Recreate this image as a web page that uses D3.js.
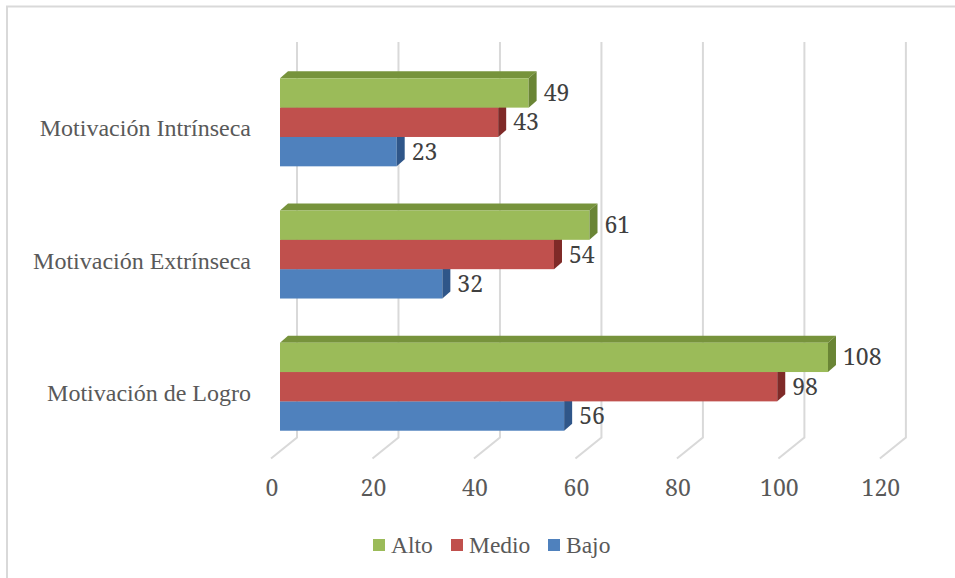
<!DOCTYPE html>
<html>
<head>
<meta charset="utf-8">
<script src="https://cdn.jsdelivr.net/npm/d3@7"></script>
</head>
<body style="margin:0">
<svg id="chart" width="955" height="578" style="display:block"></svg>
<script>
// datos
const categorias = ['Motivación Intrínseca', 'Motivación Extrínseca', 'Motivación de Logro'];
const series = ['Alto', 'Medio', 'Bajo'];
const alto = [49, 61, 108];
const medio = [43, 54, 98];
const bajo = [23, 32, 56];
const ticks = [0, 20, 40, 60, 80, 100, 120];

const valores = { Alto: alto, Medio: medio, Bajo: bajo };
const colores = {
  Alto:  { front: '#9BBB59', top: '#77933C', side: '#6A8535' },
  Medio: { front: '#C0504D', top: '#943C3A', side: '#7F2A28' },
  Bajo:  { front: '#4F81BD', top: '#3A6396', side: '#2F5689' }
};

const fuenteTexto = '"Liberation Serif"';
const fuenteNum = '"Noto Serif"';

const svg = d3.select('#chart');

// marco
svg.append('rect')
  .attr('x', 7).attr('y', 6.5)
  .attr('width', 1000).attr('height', 1000)
  .attr('fill', 'none').attr('stroke', '#D9D9D9').attr('stroke-width', 2);

// escalas
const x = d3.scaleLinear().domain([0, 120]).range([280, 280 + 120 * 5.074]);
const y = d3.scaleBand().domain(categorias).range([56.2, 452.8])
  .paddingInner(0.334).paddingOuter(0.167);
const ySub = d3.scaleBand().domain(series).range([0, y.bandwidth()]);

// desplazamientos 3D
const dx = 8, dy = -7;          // profundidad de la barra
const backDx = 17;              // plano trasero respecto al frente de la barra
const floorDx = -26, floorDy = 21;
const gridTop = 42, gridBottom = 437.5;

// cuadrícula (plano trasero + suelo)
const grid = svg.append('g');
ticks.forEach(t => {
  const xb = x(t) + backDx;
  grid.append('path')
    .attr('d', `M${xb},${gridTop}L${xb},${gridBottom}L${xb + floorDx},${gridBottom + floorDy}`)
    .attr('fill', 'none').attr('stroke', '#D9D9D9').attr('stroke-width', 2);
});

// etiquetas del eje X
svg.selectAll('text.tick').data(ticks).join('text')
  .attr('class', 'tick')
  .attr('x', d => x(d) - 8)
  .attr('y', 496)
  .attr('text-anchor', 'middle')
  .style('font-family', fuenteNum)
  .style('font-size', '23px')
  .style('fill', '#595959')
  .text(d => d);

// etiquetas de categoría
svg.selectAll('text.cat').data(categorias).join('text')
  .attr('class', 'cat')
  .attr('x', 251)
  .attr('y', d => y(d) + y.bandwidth() / 2 + 14)
  .attr('text-anchor', 'end')
  .style('font-family', fuenteTexto)
  .style('font-size', '24px')
  .style('fill', '#595959')
  .text(d => d);

// barras: de abajo (Bajo) hacia arriba (Alto) para que se tapen bien
const barras = svg.append('g');
['Bajo', 'Medio', 'Alto'].forEach(s => {
  categorias.forEach((c, i) => {
    const v = valores[s][i];
    const x0 = x(0), x1 = x(v);
    const y0 = y(c) + ySub(s), h = ySub.bandwidth();
    const g = barras.append('g');
    // cara superior
    g.append('path')
      .attr('d', `M${x0},${y0}L${x0 + dx},${y0 + dy}L${x1 + dx},${y0 + dy}L${x1},${y0}Z`)
      .attr('fill', colores[s].top);
    // cara frontal
    g.append('rect')
      .attr('x', x0).attr('y', y0)
      .attr('width', x1 - x0).attr('height', h)
      .attr('fill', colores[s].front);
    // cara lateral
    g.append('path')
      .attr('d', `M${x1},${y0}L${x1 + dx},${y0 + dy}L${x1 + dx},${y0 + h + dy}L${x1},${y0 + h}Z`)
      .attr('fill', colores[s].side);
  });
});

// etiquetas de datos
series.forEach(s => {
  categorias.forEach((c, i) => {
    const v = valores[s][i];
    svg.append('text')
      .attr('x', x(v) + 15)
      .attr('y', y(c) + ySub(s) + ySub.bandwidth() / 2 + 8)
      .style('font-family', fuenteNum)
      .style('font-size', '23px')
      .style('fill', '#404040')
      .text(v);
  });
});

// leyenda
const legendX = [373, 451, 548];
series.forEach((s, i) => {
  svg.append('rect')
    .attr('x', legendX[i]).attr('y', 539)
    .attr('width', 12).attr('height', 12)
    .attr('fill', colores[s].front);
  svg.append('text')
    .attr('x', legendX[i] + 18).attr('y', 553)
    .style('font-family', fuenteTexto)
    .style('font-size', '23.5px')
    .style('fill', '#595959')
    .text(s);
});
</script>
</body>
</html>
